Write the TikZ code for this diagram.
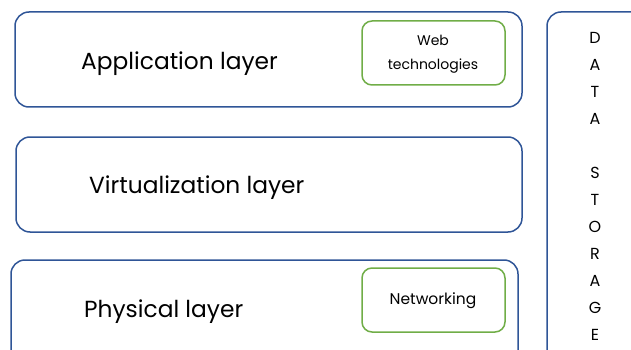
\documentclass[tikz,border=0pt]{standalone}
\usepackage{fontspec}
\setmainfont{Poppins}
\definecolor{bluebd}{HTML}{2F5597}
\definecolor{greenbd}{HTML}{70AD47}
\begin{document}
\begin{tikzpicture}[x=1pt,y=-1pt,
  layer/.style={draw=bluebd,line width=1.5pt,rounded corners=14pt},
  sub/.style={draw=greenbd,line width=1.5pt,rounded corners=10pt},
  big/.style={font=\fontsize{23.3}{26}\selectfont,anchor=west,inner sep=0pt},
  small/.style={font=\fontsize{14}{16}\selectfont,align=center,inner sep=0pt},
  letter/.style={font=\fontsize{16}{18}\selectfont,inner sep=0pt}]
\useasboundingbox (0,0) rectangle (631,350);
\begin{scope}
\clip (0,0) rectangle (631,350);
\draw[layer] (15,12) rectangle (522,107);
\draw[layer] (16,137) rectangle (522,232);
\draw[layer] (11,260) rectangle (518,365);
\draw[layer] (547,12) rectangle (660,365);
\draw[sub] (362,21) rectangle (505,85);
\draw[sub] (362,268) rectangle (505,332);
\end{scope}
\node[big] (app) at (81,64) {Application layer};
\node[big] (virt) at (89,188) {Virtualization layer};
\node[big] (phys) at (84,312) {Physical layer};
\node[small] (web) at (433,54) {Web\\[8pt]technologies};
\node[small,font=\fontsize{15.5}{18}\selectfont] (net) at (433,301) {Networking};
\foreach \l [count=\i from 0] in {D,A,T,A,,S,T,O,R,A,G,E}
  \node[letter] (ds\i) at (595,38+27*\i) {\l};
\end{tikzpicture}
\end{document}
